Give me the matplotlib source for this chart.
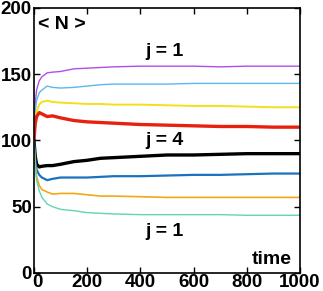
import matplotlib
matplotlib.use("Agg")
import matplotlib.pyplot as plt
import matplotlib.transforms as mtrans

plt.rcParams['font.family'] = ['Liberation Sans', 'DejaVu Sans']
plt.rcParams['font.weight'] = 'bold'

# time points
t = [0, 5, 10, 20, 30, 50, 70, 100, 150, 200, 250, 300, 400, 500, 600, 700, 800, 900, 1000]

# <N> for each species, top to bottom
purple = [100, 128, 138, 145, 148, 151, 151.5, 152, 154, 154.5, 155, 155.5, 156, 156, 156, 155.5, 156, 156, 156]
skyblue = [100, 122, 130, 136, 138, 141, 140, 139.5, 140, 141, 142, 142.5, 142.5, 142.5, 143, 143, 143, 143, 143]
yellow = [100, 115, 122, 127, 129, 130, 129, 128.5, 128, 127.5, 127.5, 127, 127, 126.5, 126, 126, 125.5, 125, 125]
red = [100, 113, 118, 121, 120, 118, 118.5, 117, 115, 114, 113.5, 113, 112, 111.5, 111, 110.5, 110.5, 110, 110]
black = [100, 88, 82, 80, 80.5, 81, 81, 82, 84, 85, 86.5, 87, 88, 89, 89, 89.5, 90, 90, 90]
blue = [100, 85, 78, 74, 72, 70, 71, 72, 72, 72, 72.5, 73, 73, 73.5, 74, 74, 74.5, 75, 75]
orange = [100, 82, 73, 66, 63, 61, 59.5, 60, 60, 59, 58, 58, 57.5, 57, 57, 57, 57, 57, 57]
teal = [100, 80, 70, 62, 57, 52, 50, 48, 47, 45.5, 45, 44.5, 44, 44, 44, 44, 43.5, 43.5, 43.5]

series = [
    (purple, '#b04ee8', 1.0),
    (skyblue, '#5ab8ec', 1.0),
    (yellow, '#f2e01c', 1.4),
    (red, '#e8200e', 2.4),
    (black, '#000000', 2.4),
    (blue, '#1a72bc', 1.6),
    (orange, '#f2a816', 1.2),
    (teal, '#62d4b4', 1.0),
]

fig = plt.figure(figsize=(3.23, 2.91), dpi=100)
ax = fig.add_axes([0.105, 0.062, 0.824, 0.911])

for vals, col, lw in series:
    ax.plot(t, vals, color=col, lw=lw)

ax.set_xlim(0, 1000)
ax.set_ylim(0, 200)
ax.set_xticks([0, 200, 400, 600, 800, 1000])
ax.set_yticks([0, 50, 100, 150, 200])
ax.tick_params(direction='in', top=True, right=True, length=4, width=1,
               labelsize=13.5)
ax.tick_params(axis='x', pad=1)
ax.tick_params(axis='y', pad=1.5)
for lab in ax.get_xticklabels() + ax.get_yticklabels():
    lab.set_fontweight('bold')
for sp in ax.spines.values():
    sp.set_linewidth(1.2)

# nudge the x "0" a little right so it clears the y "0" (as in the original)
lab0 = ax.get_xticklabels()[0]
lab0.set_transform(lab0.get_transform() + mtrans.ScaledTranslation(0.035, 0, fig.dpi_scale_trans))

fs = 14
ax.text(0.015, 0.936, '< N >', transform=ax.transAxes, fontsize=fs, fontweight='bold', va='center')
ax.text(0.417, 0.834, 'j = 1', transform=ax.transAxes, fontsize=fs, fontweight='bold', va='center')
ax.text(0.417, 0.50, 'j = 4', transform=ax.transAxes, fontsize=fs, fontweight='bold', va='center')
ax.text(0.417, 0.155, 'j = 1', transform=ax.transAxes, fontsize=fs, fontweight='bold', va='center')
ax.text(0.97, 0.049, 'time', transform=ax.transAxes, fontsize=fs, fontweight='bold', ha='right', va='center')

fig.savefig('out.png', dpi=100)
